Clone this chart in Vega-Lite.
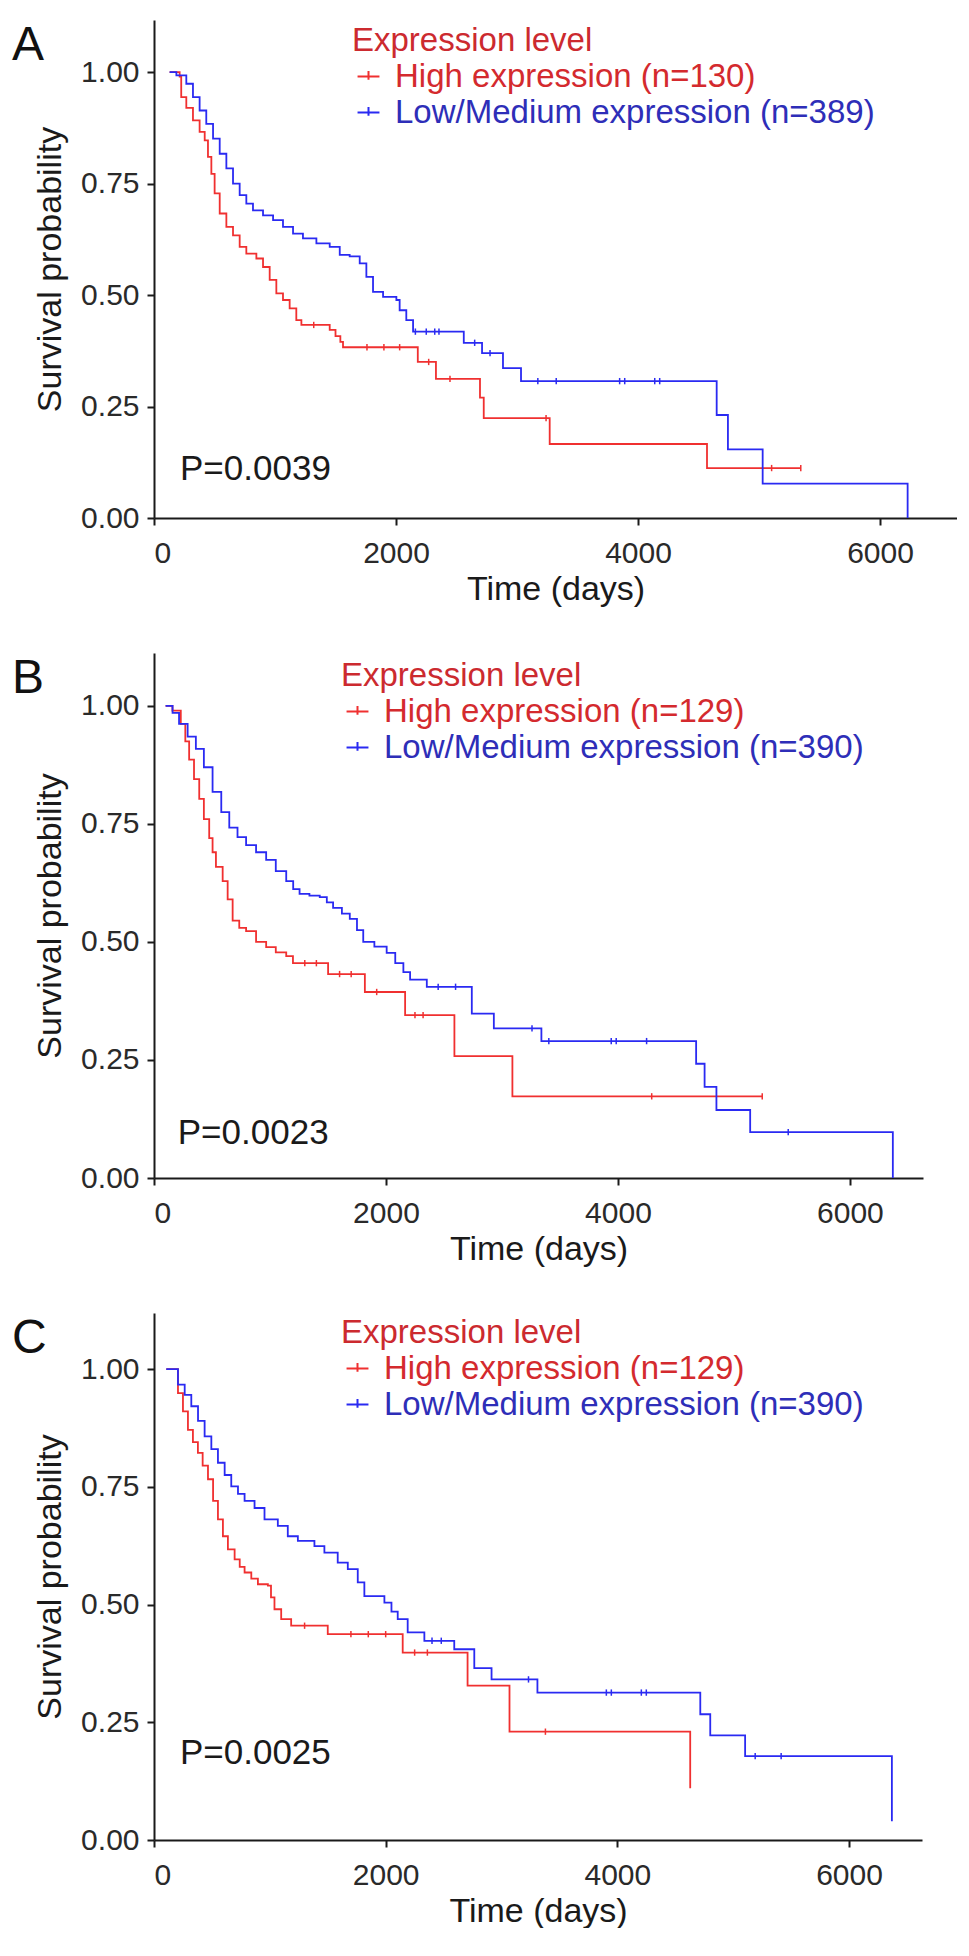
{
  "$schema": "https://vega.github.io/schema/vega-lite/v6.json",
  "padding": {"left": 12, "top": 20, "right": 0, "bottom": 0},
  "spacing": 47,
  "config": {
    "font": "Liberation Sans",
    "view": {"stroke": null},
    "axis": {
      "grid": false,
      "domainColor": "#1a1a1a",
      "domainWidth": 2,
      "tickColor": "#1a1a1a",
      "tickWidth": 2,
      "tickSize": 7,
      "labelFont": "Liberation Sans",
      "labelFontSize": 30,
      "labelColor": "#2a2a2a",
      "titleFont": "Liberation Sans",
      "titleFontSize": 34,
      "titleFontWeight": "normal",
      "titleColor": "#1a1a1a"
    },
    "axisX": {"labelPadding": 13, "titlePadding": 4, "format": "d"},
    "axisY": {"labelPadding": 8, "titlePadding": 13},
    "legend": {
      "orient": "none",
      "titleFont": "Liberation Sans",
      "titleFontSize": 33,
      "titleFontWeight": "normal",
      "titleColor": "#cc2a2f",
      "titlePadding": 2,
      "titleLimit": 700,
      "labelFont": "Liberation Sans",
      "labelFontSize": 33,
      "labelOffset": 10,
      "labelLimit": 700,
      "rowPadding": 2,
      "padding": 0,
      "symbolType": "M-1,0L1,0M0,-0.5L0,0.3",
      "symbolSize": 480,
      "symbolStrokeWidth": 2
    },
    "title": {"font": "Liberation Sans", "fontSize": 48, "fontWeight": "normal", "color": "#111111", "anchor": "start", "frame": "group", "baseline": "top", "offset": -50, "dx": -142}
  },
  "resolve": {
    "scale": {"color": "independent", "x": "independent", "y": "independent"},
    "legend": {"color": "independent"}
  },
  "vconcat": [
    {
      "width": 803,
      "height": 498,
      "title": {"text": "A"},
      "layer": [
        {
          "data": {"values": [
            {"g": "H", "time": 129, "surv": 1.0}, {"g": "H", "time": 212, "surv": 0.99}, {"g": "H", "time": 225, "surv": 0.944},
            {"g": "H", "time": 267, "surv": 0.92}, {"g": "H", "time": 322, "surv": 0.892}, {"g": "H", "time": 377, "surv": 0.866},
            {"g": "H", "time": 419, "surv": 0.847}, {"g": "H", "time": 446, "surv": 0.81}, {"g": "H", "time": 474, "surv": 0.772},
            {"g": "H", "time": 501, "surv": 0.728}, {"g": "H", "time": 543, "surv": 0.683}, {"g": "H", "time": 598, "surv": 0.653},
            {"g": "H", "time": 653, "surv": 0.634}, {"g": "H", "time": 708, "surv": 0.608}, {"g": "H", "time": 763, "surv": 0.593},
            {"g": "H", "time": 846, "surv": 0.582}, {"g": "H", "time": 901, "surv": 0.563}, {"g": "H", "time": 956, "surv": 0.534},
            {"g": "H", "time": 1011, "surv": 0.504}, {"g": "H", "time": 1066, "surv": 0.489}, {"g": "H", "time": 1121, "surv": 0.47},
            {"g": "H", "time": 1176, "surv": 0.444}, {"g": "H", "time": 1218, "surv": 0.433}, {"g": "H", "time": 1452, "surv": 0.422},
            {"g": "H", "time": 1500, "surv": 0.408}, {"g": "H", "time": 1540, "surv": 0.395}, {"g": "H", "time": 1562, "surv": 0.383},
            {"g": "H", "time": 2180, "surv": 0.35}, {"g": "H", "time": 2330, "surv": 0.312}, {"g": "H", "time": 2694, "surv": 0.27},
            {"g": "H", "time": 2725, "surv": 0.224}, {"g": "H", "time": 3270, "surv": 0.166}, {"g": "H", "time": 4570, "surv": 0.112},
            {"g": "H", "time": 5345, "surv": 0.112},
            {"g": "L", "time": 129, "surv": 1.0}, {"g": "L", "time": 185, "surv": 0.993}, {"g": "L", "time": 267, "surv": 0.974},
            {"g": "L", "time": 322, "surv": 0.944}, {"g": "L", "time": 377, "surv": 0.914}, {"g": "L", "time": 432, "surv": 0.884},
            {"g": "L", "time": 488, "surv": 0.851}, {"g": "L", "time": 543, "surv": 0.817}, {"g": "L", "time": 598, "surv": 0.784},
            {"g": "L", "time": 653, "surv": 0.75}, {"g": "L", "time": 708, "surv": 0.724}, {"g": "L", "time": 763, "surv": 0.705},
            {"g": "L", "time": 818, "surv": 0.69}, {"g": "L", "time": 901, "surv": 0.679}, {"g": "L", "time": 984, "surv": 0.668},
            {"g": "L", "time": 1066, "surv": 0.653}, {"g": "L", "time": 1149, "surv": 0.638}, {"g": "L", "time": 1231, "surv": 0.627},
            {"g": "L", "time": 1342, "surv": 0.616}, {"g": "L", "time": 1452, "surv": 0.608}, {"g": "L", "time": 1535, "surv": 0.59},
            {"g": "L", "time": 1617, "surv": 0.587}, {"g": "L", "time": 1700, "surv": 0.571}, {"g": "L", "time": 1755, "surv": 0.541},
            {"g": "L", "time": 1810, "surv": 0.507}, {"g": "L", "time": 1893, "surv": 0.496}, {"g": "L", "time": 2003, "surv": 0.489},
            {"g": "L", "time": 2030, "surv": 0.466}, {"g": "L", "time": 2085, "surv": 0.444}, {"g": "L", "time": 2141, "surv": 0.418},
            {"g": "L", "time": 2560, "surv": 0.393}, {"g": "L", "time": 2711, "surv": 0.37}, {"g": "L", "time": 2884, "surv": 0.336},
            {"g": "L", "time": 3033, "surv": 0.307}, {"g": "L", "time": 4650, "surv": 0.231}, {"g": "L", "time": 4743, "surv": 0.154},
            {"g": "L", "time": 5030, "surv": 0.077}, {"g": "L", "time": 6228, "surv": 0.0}
          ]},
          "mark": {"type": "line", "interpolate": "step-after", "strokeWidth": 1.8},
          "encoding": {
            "x": {"field": "time", "type": "quantitative", "scale": {"domain": [0, 6636], "nice": false}, "axis": {"values": [0, 2000, 4000, 6000], "title": "Time (days)"}},
            "y": {"field": "surv", "type": "quantitative", "scale": {"domain": [0, 1.117], "nice": false}, "axis": {"values": [0, 0.25, 0.5, 0.75, 1], "format": ".2f", "title": "Survival probability"}},
            "color": {
              "field": "g", "type": "nominal",
              "scale": {"domain": ["H", "L"], "range": ["#f03030", "#2a2af2"]},
              "legend": {
                "title": "Expression level",
                "legendX": 198, "legendY": 5,
                "labelExpr": "datum.value == 'H' ? 'High expression (n=130)' : 'Low/Medium expression (n=389)'",
                "labelColor": {"expr": "datum.value == 'H' ? '#d42a2e' : '#2e2eb8'"}
              }
            }
          }
        },
        {
          "data": {"values": [
            {"g": "H", "time": 1320, "surv": 0.433}, {"g": "H", "time": 1760, "surv": 0.383}, {"g": "H", "time": 1900, "surv": 0.383},
            {"g": "H", "time": 2030, "surv": 0.383}, {"g": "H", "time": 2270, "surv": 0.35}, {"g": "H", "time": 2446, "surv": 0.312},
            {"g": "H", "time": 3240, "surv": 0.224}, {"g": "H", "time": 5104, "surv": 0.112}, {"g": "H", "time": 5345, "surv": 0.112},
            {"g": "L", "time": 2160, "surv": 0.418}, {"g": "L", "time": 2250, "surv": 0.418}, {"g": "L", "time": 2320, "surv": 0.418},
            {"g": "L", "time": 2355, "surv": 0.418}, {"g": "L", "time": 2650, "surv": 0.393}, {"g": "L", "time": 2777, "surv": 0.37},
            {"g": "L", "time": 3172, "surv": 0.307}, {"g": "L", "time": 3324, "surv": 0.307}, {"g": "L", "time": 3848, "surv": 0.307},
            {"g": "L", "time": 3890, "surv": 0.307}, {"g": "L", "time": 4138, "surv": 0.307}, {"g": "L", "time": 4179, "surv": 0.307}
          ]},
          "mark": {"type": "point", "shape": "M0,-1L0,1", "filled": false, "size": 40, "strokeWidth": 1.5, "opacity": 1},
          "encoding": {
            "x": {"field": "time", "type": "quantitative"},
            "y": {"field": "surv", "type": "quantitative"},
            "color": {"field": "g", "type": "nominal", "legend": null}
          }
        },
        {
          "data": {"values": [{"label": "P=0.0039"}]},
          "mark": {"type": "text", "align": "left", "baseline": "middle", "fontSize": 35, "color": "#1a1a1a"},
          "encoding": {"x": {"datum": 215}, "y": {"datum": 0.11}, "text": {"field": "label"}}
        }
      ]
    },
    {
      "width": 769,
      "height": 525,
      "title": {"text": "B"},
      "layer": [
        {
          "data": {"values": [
            {"g": "H", "time": 100, "surv": 1.0}, {"g": "H", "time": 159, "surv": 0.99}, {"g": "H", "time": 231, "surv": 0.962},
            {"g": "H", "time": 270, "surv": 0.925}, {"g": "H", "time": 303, "surv": 0.886}, {"g": "H", "time": 345, "surv": 0.845},
            {"g": "H", "time": 390, "surv": 0.803}, {"g": "H", "time": 430, "surv": 0.76}, {"g": "H", "time": 476, "surv": 0.72},
            {"g": "H", "time": 505, "surv": 0.69}, {"g": "H", "time": 534, "surv": 0.659}, {"g": "H", "time": 592, "surv": 0.629},
            {"g": "H", "time": 635, "surv": 0.59}, {"g": "H", "time": 678, "surv": 0.545}, {"g": "H", "time": 735, "surv": 0.53},
            {"g": "H", "time": 794, "surv": 0.523}, {"g": "H", "time": 880, "surv": 0.5}, {"g": "H", "time": 967, "surv": 0.489},
            {"g": "H", "time": 1050, "surv": 0.478}, {"g": "H", "time": 1140, "surv": 0.47}, {"g": "H", "time": 1198, "surv": 0.455},
            {"g": "H", "time": 1501, "surv": 0.432}, {"g": "H", "time": 1818, "surv": 0.394}, {"g": "H", "time": 2165, "surv": 0.345},
            {"g": "H", "time": 2590, "surv": 0.258}, {"g": "H", "time": 3090, "surv": 0.173}, {"g": "H", "time": 5244, "surv": 0.173},
            {"g": "L", "time": 100, "surv": 1.0}, {"g": "L", "time": 160, "surv": 0.985}, {"g": "L", "time": 216, "surv": 0.962},
            {"g": "L", "time": 290, "surv": 0.935}, {"g": "L", "time": 361, "surv": 0.909}, {"g": "L", "time": 430, "surv": 0.87},
            {"g": "L", "time": 505, "surv": 0.818}, {"g": "L", "time": 580, "surv": 0.775}, {"g": "L", "time": 649, "surv": 0.742},
            {"g": "L", "time": 720, "surv": 0.722}, {"g": "L", "time": 794, "surv": 0.705}, {"g": "L", "time": 880, "surv": 0.69},
            {"g": "L", "time": 967, "surv": 0.674}, {"g": "L", "time": 1050, "surv": 0.65}, {"g": "L", "time": 1140, "surv": 0.629},
            {"g": "L", "time": 1200, "surv": 0.612}, {"g": "L", "time": 1255, "surv": 0.602}, {"g": "L", "time": 1340, "surv": 0.598},
            {"g": "L", "time": 1429, "surv": 0.595}, {"g": "L", "time": 1490, "surv": 0.584}, {"g": "L", "time": 1544, "surv": 0.572},
            {"g": "L", "time": 1620, "surv": 0.56}, {"g": "L", "time": 1688, "surv": 0.549}, {"g": "L", "time": 1750, "surv": 0.525},
            {"g": "L", "time": 1804, "surv": 0.5}, {"g": "L", "time": 1900, "surv": 0.49}, {"g": "L", "time": 2006, "surv": 0.477},
            {"g": "L", "time": 2080, "surv": 0.455}, {"g": "L", "time": 2150, "surv": 0.436}, {"g": "L", "time": 2208, "surv": 0.42},
            {"g": "L", "time": 2352, "surv": 0.405}, {"g": "L", "time": 2740, "surv": 0.348}, {"g": "L", "time": 2930, "surv": 0.317},
            {"g": "L", "time": 3340, "surv": 0.29}, {"g": "L", "time": 4674, "surv": 0.242}, {"g": "L", "time": 4747, "surv": 0.193},
            {"g": "L", "time": 4849, "surv": 0.144}, {"g": "L", "time": 5140, "surv": 0.097}, {"g": "L", "time": 6370, "surv": 0.0}
          ]},
          "mark": {"type": "line", "interpolate": "step-after", "strokeWidth": 1.8},
          "encoding": {
            "x": {"field": "time", "type": "quantitative", "scale": {"domain": [0, 6630], "nice": false}, "axis": {"values": [0, 2000, 4000, 6000], "title": "Time (days)"}},
            "y": {"field": "surv", "type": "quantitative", "scale": {"domain": [0, 1.112], "nice": false}, "axis": {"values": [0, 0.25, 0.5, 0.75, 1], "format": ".2f", "title": "Survival probability"}},
            "color": {
              "field": "g", "type": "nominal",
              "scale": {"domain": ["H", "L"], "range": ["#f03030", "#2a2af2"]},
              "legend": {
                "title": "Expression level",
                "legendX": 187, "legendY": 7,
                "labelExpr": "datum.value == 'H' ? 'High expression (n=129)' : 'Low/Medium expression (n=390)'",
                "labelColor": {"expr": "datum.value == 'H' ? '#d42a2e' : '#2e2eb8'"}
              }
            }
          }
        },
        {
          "data": {"values": [
            {"g": "H", "time": 1300, "surv": 0.455}, {"g": "H", "time": 1400, "surv": 0.455}, {"g": "H", "time": 1600, "surv": 0.432},
            {"g": "H", "time": 1700, "surv": 0.432}, {"g": "H", "time": 1920, "surv": 0.394}, {"g": "H", "time": 2250, "surv": 0.345},
            {"g": "H", "time": 2320, "surv": 0.345}, {"g": "H", "time": 4291, "surv": 0.173}, {"g": "H", "time": 5244, "surv": 0.173},
            {"g": "L", "time": 2450, "surv": 0.405}, {"g": "L", "time": 2600, "surv": 0.405}, {"g": "L", "time": 3259, "surv": 0.317},
            {"g": "L", "time": 3404, "surv": 0.29}, {"g": "L", "time": 3942, "surv": 0.29}, {"g": "L", "time": 3985, "surv": 0.29},
            {"g": "L", "time": 4247, "surv": 0.29}, {"g": "L", "time": 5468, "surv": 0.097}
          ]},
          "mark": {"type": "point", "shape": "M0,-1L0,1", "filled": false, "size": 40, "strokeWidth": 1.5, "opacity": 1},
          "encoding": {
            "x": {"field": "time", "type": "quantitative"},
            "y": {"field": "surv", "type": "quantitative"},
            "color": {"field": "g", "type": "nominal", "legend": null}
          }
        },
        {
          "data": {"values": [{"label": "P=0.0023"}]},
          "mark": {"type": "text", "align": "left", "baseline": "middle", "fontSize": 35, "color": "#1a1a1a"},
          "encoding": {"x": {"datum": 205}, "y": {"datum": 0.095}, "text": {"field": "label"}}
        }
      ]
    },
    {
      "width": 768,
      "height": 527,
      "title": {"text": "C"},
      "layer": [
        {
          "data": {"values": [
            {"g": "H", "time": 106, "surv": 1.0}, {"g": "H", "time": 164, "surv": 1.0}, {"g": "H", "time": 207, "surv": 0.949},
            {"g": "H", "time": 250, "surv": 0.91}, {"g": "H", "time": 293, "surv": 0.871}, {"g": "H", "time": 336, "surv": 0.845},
            {"g": "H", "time": 379, "surv": 0.822}, {"g": "H", "time": 420, "surv": 0.795}, {"g": "H", "time": 466, "surv": 0.766},
            {"g": "H", "time": 510, "surv": 0.72}, {"g": "H", "time": 552, "surv": 0.681}, {"g": "H", "time": 595, "surv": 0.645},
            {"g": "H", "time": 638, "surv": 0.617}, {"g": "H", "time": 696, "surv": 0.596}, {"g": "H", "time": 740, "surv": 0.58},
            {"g": "H", "time": 782, "surv": 0.568}, {"g": "H", "time": 840, "surv": 0.555}, {"g": "H", "time": 897, "surv": 0.543},
            {"g": "H", "time": 983, "surv": 0.54}, {"g": "H", "time": 1010, "surv": 0.515}, {"g": "H", "time": 1040, "surv": 0.49},
            {"g": "H", "time": 1098, "surv": 0.469}, {"g": "H", "time": 1184, "surv": 0.455}, {"g": "H", "time": 1500, "surv": 0.437},
            {"g": "H", "time": 2147, "surv": 0.398}, {"g": "H", "time": 2707, "surv": 0.328}, {"g": "H", "time": 3069, "surv": 0.23},
            {"g": "H", "time": 4629, "surv": 0.11},
            {"g": "L", "time": 106, "surv": 1.0}, {"g": "L", "time": 207, "surv": 0.967}, {"g": "L", "time": 265, "surv": 0.945},
            {"g": "L", "time": 322, "surv": 0.921}, {"g": "L", "time": 380, "surv": 0.89}, {"g": "L", "time": 437, "surv": 0.857},
            {"g": "L", "time": 495, "surv": 0.83}, {"g": "L", "time": 552, "surv": 0.801}, {"g": "L", "time": 610, "surv": 0.775},
            {"g": "L", "time": 667, "surv": 0.751}, {"g": "L", "time": 725, "surv": 0.735}, {"g": "L", "time": 782, "surv": 0.72},
            {"g": "L", "time": 868, "surv": 0.705}, {"g": "L", "time": 954, "surv": 0.681}, {"g": "L", "time": 1069, "surv": 0.667},
            {"g": "L", "time": 1155, "surv": 0.645}, {"g": "L", "time": 1242, "surv": 0.635}, {"g": "L", "time": 1385, "surv": 0.624},
            {"g": "L", "time": 1471, "surv": 0.61}, {"g": "L", "time": 1586, "surv": 0.589}, {"g": "L", "time": 1673, "surv": 0.575},
            {"g": "L", "time": 1759, "surv": 0.547}, {"g": "L", "time": 1816, "surv": 0.518}, {"g": "L", "time": 1989, "surv": 0.504},
            {"g": "L", "time": 2050, "surv": 0.485}, {"g": "L", "time": 2104, "surv": 0.469}, {"g": "L", "time": 2190, "surv": 0.441},
            {"g": "L", "time": 2334, "surv": 0.423}, {"g": "L", "time": 2592, "surv": 0.405}, {"g": "L", "time": 2765, "surv": 0.365},
            {"g": "L", "time": 2914, "surv": 0.341}, {"g": "L", "time": 3310, "surv": 0.313}, {"g": "L", "time": 4716, "surv": 0.267},
            {"g": "L", "time": 4802, "surv": 0.222}, {"g": "L", "time": 5103, "surv": 0.178}, {"g": "L", "time": 6370, "surv": 0.04}
          ]},
          "mark": {"type": "line", "interpolate": "step-after", "strokeWidth": 1.8},
          "encoding": {
            "x": {"field": "time", "type": "quantitative", "scale": {"domain": [0, 6630], "nice": false}, "axis": {"values": [0, 2000, 4000, 6000], "title": "Time (days)"}},
            "y": {"field": "surv", "type": "quantitative", "scale": {"domain": [0, 1.119], "nice": false}, "axis": {"values": [0, 0.25, 0.5, 0.75, 1], "format": ".2f", "title": "Survival probability"}},
            "color": {
              "field": "g", "type": "nominal",
              "scale": {"domain": ["H", "L"], "range": ["#f03030", "#2a2af2"]},
              "legend": {
                "title": "Expression level",
                "legendX": 187, "legendY": 4,
                "labelExpr": "datum.value == 'H' ? 'High expression (n=129)' : 'Low/Medium expression (n=390)'",
                "labelColor": {"expr": "datum.value == 'H' ? '#d42a2e' : '#2e2eb8'"}
              }
            }
          }
        },
        {
          "data": {"values": [
            {"g": "H", "time": 1300, "surv": 0.455}, {"g": "H", "time": 1700, "surv": 0.437}, {"g": "H", "time": 1850, "surv": 0.437},
            {"g": "H", "time": 2000, "surv": 0.437}, {"g": "H", "time": 2250, "surv": 0.398}, {"g": "H", "time": 2360, "surv": 0.398},
            {"g": "H", "time": 3379, "surv": 0.23},
            {"g": "L", "time": 2400, "surv": 0.423}, {"g": "L", "time": 2480, "surv": 0.423}, {"g": "L", "time": 3233, "surv": 0.341},
            {"g": "L", "time": 3905, "surv": 0.313}, {"g": "L", "time": 3948, "surv": 0.313}, {"g": "L", "time": 4207, "surv": 0.313},
            {"g": "L", "time": 4250, "surv": 0.313}, {"g": "L", "time": 5190, "surv": 0.178}, {"g": "L", "time": 5414, "surv": 0.178}
          ]},
          "mark": {"type": "point", "shape": "M0,-1L0,1", "filled": false, "size": 40, "strokeWidth": 1.5, "opacity": 1},
          "encoding": {
            "x": {"field": "time", "type": "quantitative"},
            "y": {"field": "surv", "type": "quantitative"},
            "color": {"field": "g", "type": "nominal", "legend": null}
          }
        },
        {
          "data": {"values": [{"label": "P=0.0025"}]},
          "mark": {"type": "text", "align": "left", "baseline": "middle", "fontSize": 35, "color": "#1a1a1a"},
          "encoding": {"x": {"datum": 224}, "y": {"datum": 0.185}, "text": {"field": "label"}}
        }
      ]
    }
  ]
}
